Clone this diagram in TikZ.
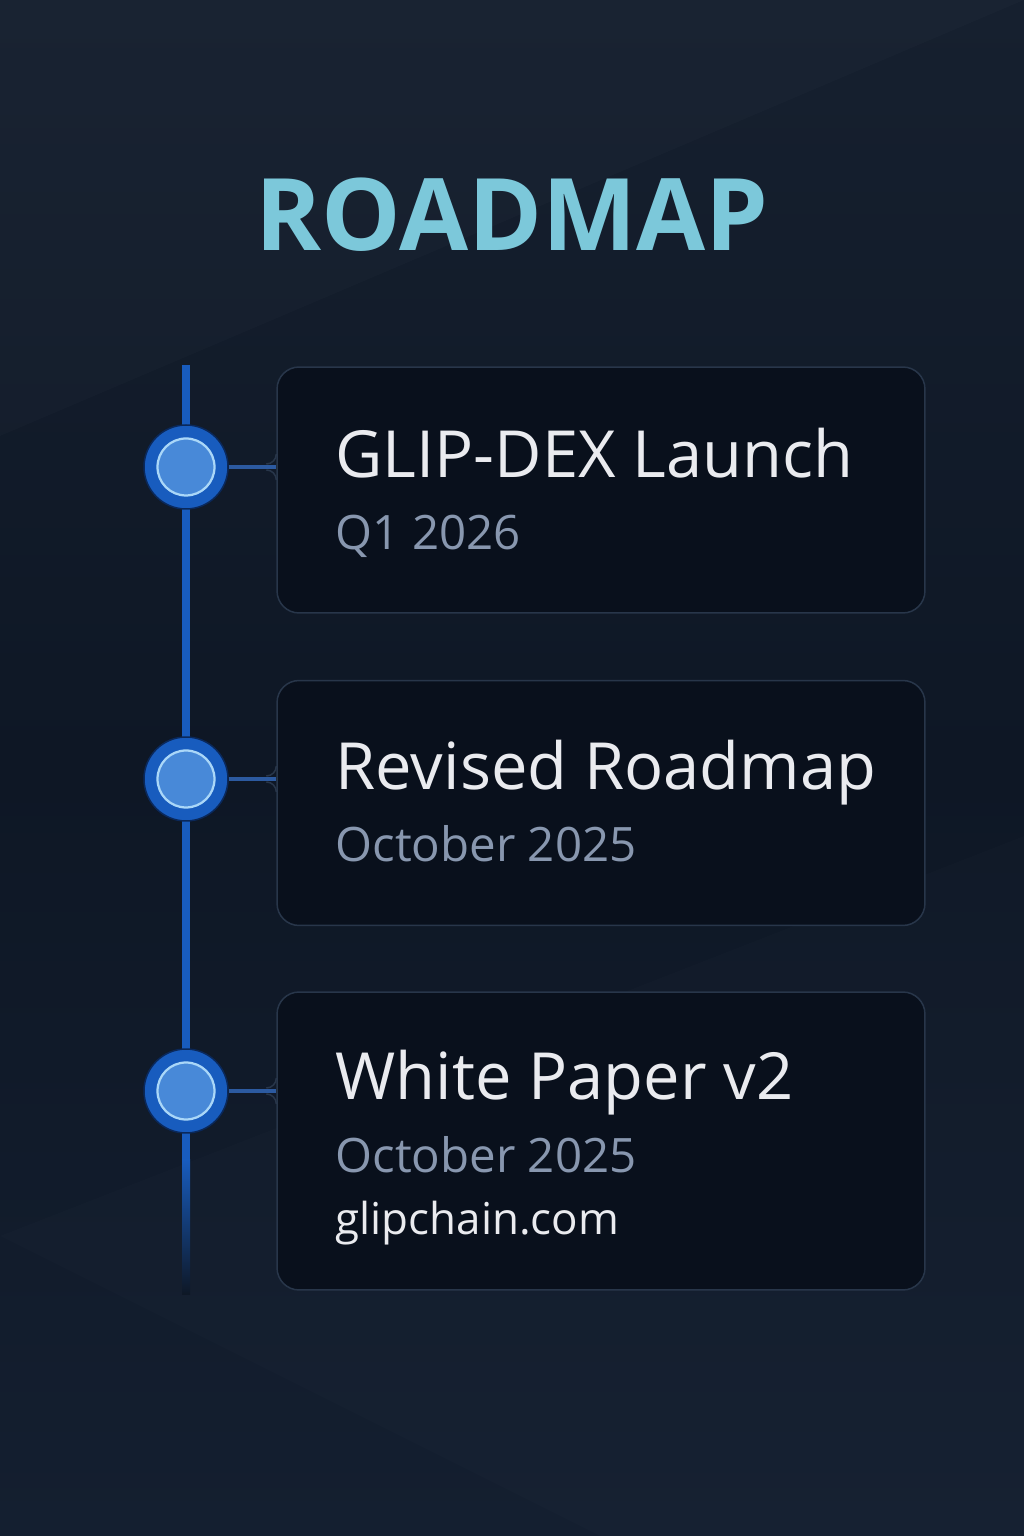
\documentclass[tikz,border=0pt]{standalone}
\usepackage{fontspec}
\setmainfont{Open Sans}
\usetikzlibrary{positioning, shadings}
\definecolor{fondo}{RGB}{14,23,37}
\definecolor{fondoalto}{RGB}{22,32,47}
\definecolor{fondobajo}{RGB}{20,31,48}
\definecolor{tarjetafondo}{RGB}{9,16,28}
\definecolor{borde}{RGB}{40,54,74}
\definecolor{azul}{RGB}{24,92,190}
\definecolor{azuloscuro}{RGB}{10,40,90}
\definecolor{azulclaro}{RGB}{72,137,216}
\definecolor{aro}{RGB}{170,215,248}
\definecolor{union}{RGB}{44,90,160}
\definecolor{cian}{RGB}{124,200,218}
\definecolor{blanco}{RGB}{234,235,239}
\definecolor{gris}{RGB}{136,151,175}
\tikzstyle{tarjeta} = [draw=borde, fill=tarjetafondo, line width=0.03cm, rounded corners=0.44cm, minimum width=12.96cm, inner sep=0pt]
\tikzstyle{hito} = [circle, fill=azul, draw=azuloscuro, line width=0.03cm, minimum size=1.68cm, inner sep=0pt]
\tikzstyle{nucleo} = [circle, fill=azulclaro, draw=aro, line width=0.045cm, minimum size=1.14cm, inner sep=0pt]
\tikzstyle{linea} = [draw=azul, line width=0.16cm]
\tikzstyle{conector} = [draw=union, line width=0.09cm]
\tikzstyle{filete} = [draw=borde, line width=0.03cm]
\tikzstyle{titulo} = [text=blanco, anchor=base west, inner sep=0pt, font=\fontsize{37}{44}\selectfont]
\tikzstyle{fecha} = [text=gris, anchor=base west, inner sep=0pt, font=\fontsize{27}{32}\selectfont]
\tikzstyle{enlace} = [text=blanco, anchor=base west, inner sep=0pt, font=\fontsize{25}{30}\selectfont]

\begin{document}
\begin{tikzpicture}[x=0.02cm, y=0.02cm]
	\useasboundingbox (0,0) rectangle (1024,1536);
	% fondo
	\shade[top color=fondoalto, bottom color=fondobajo, middle color=fondo] (0,0) rectangle (1024,1536);
	\fill[white, opacity=0.015] (0,1100) -- (1024,1536) -- (0,1536) -- cycle;
	\fill[white, opacity=0.012] (0,300) -- (1024,700) -- (1024,0) -- (600,0) -- cycle;

	\node[text=cian, inner sep=0pt, font=\bfseries\fontsize{57}{68}\selectfont] (encabezado) at (512,1321) {ROADMAP};

	% tarjetas
	\node[tarjeta, minimum height=4.92cm] (caja1) at (601,1046) {};
	\node[tarjeta, minimum height=4.90cm] (caja2) at (601,733) {};
	\node[tarjeta, minimum height=5.96cm] (caja3) at (601,395) {};

	% linea de tiempo
	\coordinate (inicio) at (186,1171);
	\coordinate (corte) at (186,376);
	\coordinate (fin) at (186,241);
	\coordinate (hito1) at (186,1069);
	\coordinate (hito2) at (186,757);
	\coordinate (hito3) at (186,445);
	\draw[linea] (inicio) -- (corte);
	\shade[top color=azul, bottom color=fondo] ([xshift=-0.08cm]corte) rectangle ([xshift=0.08cm]fin);

	\node[hito] (punto1) at (hito1) {};
	\node[hito] (punto2) at (hito2) {};
	\node[hito] (punto3) at (hito3) {};
	\node[nucleo] (centro1) at (punto1) {};
	\node[nucleo] (centro2) at (punto2) {};
	\node[nucleo] (centro3) at (punto3) {};

	% uniones
	\coordinate (union1) at (punto1 -| caja1.west);
	\coordinate (union2) at (punto2 -| caja2.west);
	\coordinate (union3) at (punto3 -| caja3.west);
	\draw[conector] (punto1.east) -- (union1);
	\draw[conector] (punto2.east) -- (union2);
	\draw[conector] (punto3.east) -- (union3);
	\draw[filete] ([yshift=0.26cm]union1) to[out=-90, in=0] ([xshift=-0.2cm, yshift=0.06cm]union1);
	\draw[filete] ([yshift=-0.26cm]union1) to[out=90, in=0] ([xshift=-0.2cm, yshift=-0.06cm]union1);
	\draw[filete] ([yshift=0.26cm]union2) to[out=-90, in=0] ([xshift=-0.2cm, yshift=0.06cm]union2);
	\draw[filete] ([yshift=-0.26cm]union2) to[out=90, in=0] ([xshift=-0.2cm, yshift=-0.06cm]union2);
	\draw[filete] ([yshift=0.26cm]union3) to[out=-90, in=0] ([xshift=-0.2cm, yshift=0.06cm]union3);
	\draw[filete] ([yshift=-0.26cm]union3) to[out=90, in=0] ([xshift=-0.2cm, yshift=-0.06cm]union3);

	% textos
	\node[titulo] (titulo1) at ([xshift=1.18cm, yshift=-2.22cm]caja1.north west) {GLIP-DEX Launch};
	\node[fecha] (fecha1) at ([yshift=-1.44cm]titulo1.base west) {Q1 2026};
	\node[titulo] (titulo2) at ([xshift=1.18cm, yshift=-2.2cm]caja2.north west) {Revised Roadmap};
	\node[fecha] (fecha2) at ([yshift=-1.44cm]titulo2.base west) {October 2025};
	\node[titulo] (titulo3) at ([xshift=1.18cm, yshift=-2.16cm]caja3.north west) {White Paper v2};
	\node[fecha] (fecha3) at ([yshift=-1.46cm]titulo3.base west) {October 2025};
	\node[enlace] (web) at ([yshift=-1.24cm]fecha3.base west) {glipchain.com};
\end{tikzpicture}
\end{document}
